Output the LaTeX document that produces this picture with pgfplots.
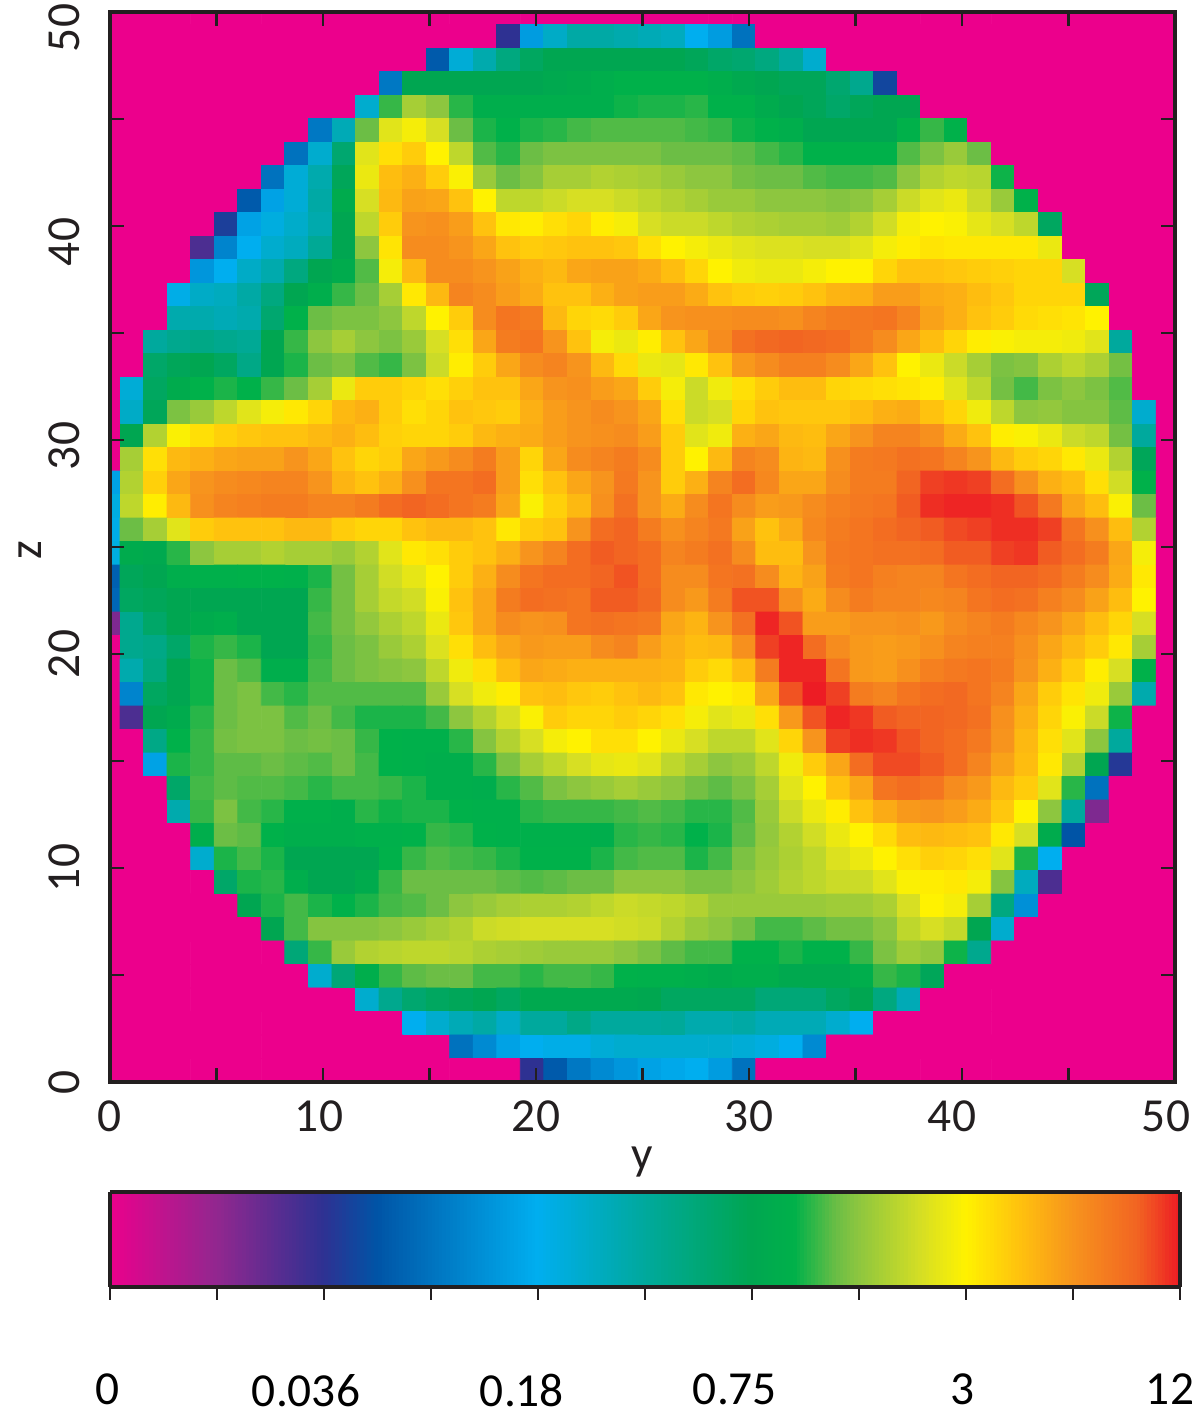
\documentclass[border=0pt]{standalone}
\usepackage{pgfplots}
\pgfplotsset{compat=1.18}
\usepackage{fontspec}
\setmainfont{Carlito}
\definecolor{axc}{RGB}{35,31,32}
\pgfplotsset{
 colormap={rm}{rgb255(0)=(236,0,140) rgb255(10)=(146,39,143) rgb255(20)=(46,49,146) rgb255(25)=(0,84,166) rgb255(40)=(0,174,239) rgb255(50)=(0,169,157) rgb255(60)=(0,166,81) rgb255(64)=(0,177,74) rgb255(68)=(108,190,69) rgb255(70)=(141,198,63) rgb255(76)=(215,223,35) rgb255(80)=(255,242,0) rgb255(85)=(255,194,14) rgb255(90)=(247,148,29) rgb255(96)=(242,101,34) rgb255(100)=(237,28,36)}
}
\begin{document}
\begin{tikzpicture}
\path[use as bounding box] (-55pt,-168pt) rectangle (542pt,541pt);
\begin{axis}[
 at={(0pt,0pt)},anchor=south west,
 scale only axis,width=532.5pt,height=535pt,
 xmin=0,xmax=50,ymin=0,ymax=50,
 enlargelimits=false,axis on top,
 colormap name=rm,point meta min=0,point meta max=100,
 font=\fontsize{23.7}{28}\selectfont,
 text=axc,
 axis line style={color=axc,line width=1.6pt},
 tick style={color=axc,line width=1.4pt},
 major tick length=7pt,tick align=inside,
 xtick={0,5,...,50},ytick={0,5,...,50},
 xticklabels={0,,{\hspace*{-4pt}10},,20,,30,,{\hspace*{-10pt}40},,{\hspace*{-9pt}50}},
 yticklabels={0,,10,,20,,{\hspace*{-6pt}30},,{\hspace*{-16pt}40},,{\hspace*{-16pt}50}},
 xticklabel style={yshift=-6pt},
 yticklabel style={rotate=90,anchor=south,yshift=11.5pt},
 xlabel={y},ylabel={z},
 every axis x label/.style={at={(axis description cs:0.5,-0.0745)},anchor=center},
 every axis y label/.style={at={(axis description cs:-0.075,0.497)},rotate=90,anchor=center},
 colorbar horizontal,
 colorbar sampled,
 colorbar style={
  samples=300,
  at={(0,-0.1028)},anchor=north west,
  scale only axis,width=535pt,height=47.5pt,
  xtick={0,10,...,100},
  xticklabels={{\hspace*{-2pt}0},,{\hspace*{-18pt}0.036},,{\hspace*{-16pt}0.18},,{\hspace*{-17pt}0.75},,{\hspace*{-4pt}3},,{\hspace*{-10pt}12}},
  xticklabel shift=33.5pt,
  tick align=outside,tickpos=bottom,major tick length=6.5pt,
  tick style={color=axc,line width=0.8pt},
  axis line style={color=axc,line width=1.6pt},
  font=\fontsize{23.7}{28}\selectfont,
 },
]
\addplot[matrix plot*,mesh/cols=46,mesh/ordering=x varies,point meta=\thisrowno{0}]
 table[header=false,row sep=\\,
  x expr={0.47+1.1056*(\coordindex-46*floor((\coordindex+0.5)/46)-0.5)},
  y expr={0.55+1.098*(45-floor((\coordindex+0.5)/46))}]{
0\\0\\0\\0\\0\\0\\0\\0\\0\\0\\0\\0\\0\\0\\0\\0\\0\\0\\0\\0\\0\\0\\0\\0\\0\\0\\0\\0\\0\\0\\0\\0\\0\\0\\0\\0\\0\\0\\0\\0\\0\\0\\0\\0\\0\\0\\
0\\0\\0\\0\\0\\0\\0\\0\\0\\0\\0\\0\\0\\0\\0\\0\\0\\20\\37\\45\\49\\49\\48\\47\\46\\40\\37\\30\\0\\0\\0\\0\\0\\0\\0\\0\\0\\0\\0\\0\\0\\0\\0\\0\\0\\0\\
0\\0\\0\\0\\0\\0\\0\\0\\0\\0\\0\\0\\0\\0\\26\\43\\48\\54\\58\\60\\60\\60\\60\\60\\60\\59\\57\\56\\54\\50\\44\\0\\0\\0\\0\\0\\0\\0\\0\\0\\0\\0\\0\\0\\0\\0\\
0\\0\\0\\0\\0\\0\\0\\0\\0\\0\\0\\0\\31\\60\\60\\60\\60\\60\\60\\61\\62\\63\\64\\64\\64\\64\\63\\61\\60\\59\\59\\56\\52\\23\\0\\0\\0\\0\\0\\0\\0\\0\\0\\0\\0\\0\\
0\\0\\0\\0\\0\\0\\0\\0\\0\\0\\0\\44\\66\\72\\70\\65.5\\63\\63\\63\\63\\63\\63\\64.5\\65\\65\\65.5\\64\\64\\62\\60\\59\\57\\59\\60\\60\\0\\0\\0\\0\\0\\0\\0\\0\\0\\0\\0\\
0\\0\\0\\0\\0\\0\\0\\0\\0\\31\\47\\68\\77\\79\\76\\68\\65\\64\\65\\65.5\\66.5\\67\\67\\67\\67\\66.5\\66\\64.5\\64\\63\\60\\60\\60\\60\\64\\66\\64\\0\\0\\0\\0\\0\\0\\0\\0\\0\\
0\\0\\0\\0\\0\\0\\0\\0\\30\\44\\56\\77\\82\\84\\80\\74\\67\\65.5\\68\\69\\69\\69\\69\\69\\68\\68\\68\\67.5\\66.5\\65.5\\64\\64\\64\\64\\67\\69\\71\\68\\0\\0\\0\\0\\0\\0\\0\\0\\
0\\0\\0\\0\\0\\0\\0\\30\\43\\48\\59\\78\\85.5\\87\\84\\79.5\\71\\68\\69.5\\72\\72\\73\\72.5\\72\\71\\70\\70\\68.5\\68\\68\\67\\66.5\\66.5\\67\\70\\73\\74\\73.5\\64.5\\0\\0\\0\\0\\0\\0\\0\\
0\\0\\0\\0\\0\\0\\26\\38\\43\\49\\62\\76\\86\\88.5\\88\\85\\80\\74\\74\\75\\76\\76\\75\\74\\73\\72\\71\\71\\70\\70\\70\\69.5\\70\\72\\75\\77\\78\\75\\71\\64\\0\\0\\0\\0\\0\\0\\
0\\0\\0\\0\\0\\22\\38\\42\\44.5\\48\\60\\74\\84\\90\\90.5\\89\\85\\81\\80.5\\82\\83\\80.5\\79\\76\\75\\75\\74\\73\\72.5\\72\\72\\71.5\\73\\75.5\\79\\80\\79.5\\77.5\\76\\74\\58\\0\\0\\0\\0\\0\\
0\\0\\0\\0\\17\\33\\40\\44\\46\\51\\60\\70\\81.5\\91\\91\\90\\88\\85\\84\\84.5\\85\\85\\84.5\\82\\80\\79\\78\\77\\76.5\\76.5\\76\\76\\77\\79\\80.5\\81.5\\81\\81\\81\\81\\78\\0\\0\\0\\0\\0\\
0\\0\\0\\0\\36\\40\\45\\48\\54\\60\\62\\67\\79\\86\\91\\91\\90\\88.5\\87\\86\\88\\88.5\\88.5\\87.5\\85.5\\83\\80\\78.5\\78\\78\\79\\80\\80\\83\\85\\85\\84.5\\84\\83.5\\83\\83\\76\\0\\0\\0\\0\\
0\\0\\0\\41\\45\\46\\49\\54\\60\\63\\66\\68\\72\\81\\86\\92\\91\\89\\87.5\\85\\85\\87\\88.5\\89\\89\\87.5\\85\\84\\83.5\\84\\85\\86.5\\87\\89\\89\\87.5\\87\\85.5\\84.5\\83\\83\\83\\59\\0\\0\\0\\
0\\0\\0\\48\\48\\47\\48\\56\\64\\68\\69\\69\\70\\74\\80\\84\\91\\94\\93\\86\\83\\82.5\\84\\88\\90\\90.5\\90.5\\91\\91\\90.5\\92\\93\\93.5\\94\\92\\88.5\\87\\85\\84\\82.5\\82\\81.5\\80\\0\\0\\0\\
0\\0\\50\\52\\53\\52\\51\\60\\66\\70\\72\\70\\69\\71\\76\\82\\88\\93\\94\\90\\85\\79\\78\\80.5\\85\\88\\91\\94.5\\95.5\\96\\95.5\\95\\93\\91\\88\\85.5\\83\\80.5\\79.5\\79\\79\\78.5\\77\\50\\0\\0\\
0\\0\\57\\59\\60\\58\\53\\60\\65\\68\\69\\67\\66\\69\\75\\80.5\\84\\88\\91\\92\\90\\86\\82.5\\78\\77.5\\81\\85\\89.5\\91\\92.5\\92.5\\91\\88\\85\\80\\78\\75\\72\\69\\69.5\\72.5\\74\\72.5\\68.5\\0\\0\\
0\\43\\58\\62\\64\\65\\64\\66\\68\\72\\78\\84\\84\\83\\82\\83.5\\85\\85\\88\\90\\90.5\\89\\88\\84\\79\\75\\78.5\\82\\84\\85.5\\85.5\\83\\82.5\\82\\81.5\\80.5\\77\\74\\68.5\\66.5\\69\\70\\69\\67\\0\\0\\
0\\45\\59\\69\\71\\74\\77\\79\\81\\83\\86\\87\\84\\82\\83\\85\\84.5\\84\\87\\89\\90\\91\\90\\88\\82\\75\\76\\83\\85\\84.5\\84.5\\84.5\\85.5\\87\\87.5\\85\\83\\78.5\\74\\70\\70.5\\69.5\\69.5\\67.5\\44\\0\\
0\\60\\73\\79.5\\82\\83.5\\84.5\\85\\85\\86\\87\\85.5\\83.5\\83\\83\\84\\86\\87\\87.5\\89\\90\\90.5\\91\\89\\84\\77\\78.5\\87\\88\\86\\85.5\\88\\90\\92\\92\\90.5\\87.5\\85\\80.5\\79.5\\78\\75\\74\\68.5\\50\\0\\
0\\72\\82\\86\\87\\88\\88.5\\88.5\\90\\88\\85\\83\\84\\88\\89.5\\91\\93\\89\\83\\88\\91\\92\\93\\91\\84\\80\\86\\92\\91\\86.5\\86\\90.5\\93\\93.5\\94.5\\94\\92\\90\\86\\84\\83\\81\\78\\73\\59\\0\\
38\\73\\83.5\\88\\90\\91\\91.5\\92\\92\\90\\86.5\\85\\87\\90.5\\94\\94\\95\\89\\82\\85\\88\\90\\93.5\\90\\84\\87\\92\\95\\91.5\\88\\88\\91\\93\\93\\96\\98\\98.5\\98\\95\\90.5\\87\\85.5\\82\\75.5\\64\\0\\
42\\74\\80.5\\86\\90.5\\92\\92.5\\93\\93\\92\\92\\93\\95\\96\\95\\94\\93\\88\\79.5\\83.5\\86\\90.5\\94.5\\90\\87.5\\91\\94\\91\\89\\89.5\\91\\92.5\\93.5\\94\\96.5\\99\\99.5\\99.5\\99\\97\\93.5\\88\\85.5\\79.5\\68\\0\\
41\\68\\72\\77\\84\\85\\85\\85\\86\\86\\84\\83\\83\\85\\86\\86\\85\\81\\84\\85\\90\\95\\96\\93\\90.5\\92\\93.5\\88.5\\85\\87.5\\91.5\\93\\94\\95\\96\\96.5\\97.5\\98\\99\\99\\98\\94\\90.5\\85.5\\73\\0\\
42\\62\\61\\65.5\\70\\72\\72\\73\\72\\72\\71\\73\\77\\81\\82\\84\\85\\87\\90\\92\\95\\96.5\\96\\95\\92\\93\\94.5\\91\\85.5\\85.5\\90\\93.5\\94\\94.5\\94.5\\95\\96.5\\96.5\\98\\98.5\\96.5\\95\\93\\88\\79\\0\\
27\\59\\60\\63\\63.5\\63.5\\64\\64\\63.5\\65\\68.5\\72\\75.5\\77.5\\80\\84\\87\\91\\94\\95\\95\\96\\97\\95\\91\\91\\94\\94.5\\91\\86.5\\88.5\\93\\94\\92.5\\92\\92\\94\\95\\96\\96\\95\\93\\91\\87.5\\81\\0\\
28\\58\\59\\60\\60\\60\\60\\60\\60\\66\\68.5\\72\\74.5\\75.5\\79.5\\85\\88\\93\\95\\94.5\\94\\96.5\\96.5\\95.5\\91\\89.5\\93\\97\\97\\90.5\\87.5\\91\\93\\92\\92\\91.5\\92\\94\\95\\94.5\\92.5\\91\\88.5\\85.5\\80\\0\\
12\\52\\57\\60\\62\\63\\60\\60\\60\\66.5\\68.5\\70.5\\72.5\\74\\78\\84.5\\88\\91\\90\\90.5\\94\\94.5\\94\\93.5\\88\\86.5\\90\\94.5\\99.5\\97\\89\\89\\90\\90\\90.5\\89.5\\91\\92\\93\\91.5\\90\\88\\85.5\\83\\76\\0\\
0\\52\\53\\57\\65\\66\\65\\60\\60\\66\\68\\69\\71\\72.5\\76.5\\82\\85.5\\88\\89.5\\89\\89\\91\\92\\89\\87\\85.5\\86\\90.5\\98\\99.5\\95\\91\\89.5\\89\\89.5\\90.5\\92\\92.5\\92.5\\90.5\\88\\86\\84\\81\\72\\0\\
0\\48\\54\\60\\64.5\\68\\67\\63\\63\\66.5\\68\\69\\69.5\\70\\74\\78.5\\82\\85.5\\88\\87.5\\87\\87\\87\\87\\86.5\\84\\82.5\\85.5\\93\\99.5\\99.5\\94\\89.5\\89\\90.5\\92.5\\93.5\\94\\93\\90\\87\\84\\80.5\\76\\64\\0\\
0\\33\\58\\60\\64.5\\68\\69\\66.5\\65.5\\67\\67\\67\\67\\67\\71\\76\\78.5\\80.5\\85\\85.5\\84.5\\84\\85\\86\\85\\81\\80\\81\\88\\97\\100\\98\\93\\92\\94\\95\\95.5\\94\\92\\88\\84\\81.5\\78.5\\71\\48\\0\\
0\\17\\60\\62\\65.5\\68\\69\\69\\67\\68\\66.5\\65\\65\\65\\66.5\\70\\73\\76\\79.5\\84\\83\\83\\84\\83\\82\\79\\77\\78\\82\\89.5\\97\\99.5\\98.5\\96.5\\96\\96\\95.5\\94.5\\90.5\\87\\83\\79.5\\75\\64.5\\0\\0\\
0\\0\\53\\64\\66\\68.5\\69\\69\\68\\68.5\\68\\66\\64\\63.5\\63.5\\65.5\\69.5\\73\\76\\79\\80\\82\\82\\80\\78\\76\\74\\74\\77\\83\\90\\98\\99\\98.5\\97\\96\\95\\93.5\\90\\86\\82\\77\\70\\50\\0\\0\\
0\\0\\38\\65\\66\\67.5\\67.5\\68\\67.5\\67\\68\\66.5\\64\\63.5\\63\\63\\65.5\\69\\72\\74\\76\\77.5\\78\\77\\74\\72\\70\\71\\74\\78.5\\84\\88\\95\\97.5\\97.5\\96.5\\95\\92\\88.5\\85.5\\81\\73\\60\\21\\0\\0\\
0\\0\\0\\57\\66.5\\67.5\\67\\67\\66.5\\65.5\\66.5\\66.5\\66\\65\\63\\63\\62.5\\65.5\\67\\69\\70\\71\\72\\71\\70\\68.5\\67.5\\69\\72\\77\\80\\85\\88\\94\\95\\94\\91\\89.5\\86\\84\\77\\65.5\\30\\0\\0\\0\\
0\\0\\0\\48\\66\\69\\66.5\\65.5\\63.5\\63.5\\63\\65.5\\64.5\\65\\65\\64\\63.5\\63.5\\65.5\\66\\66\\66\\66.5\\67\\66.5\\65.5\\65.5\\67\\71\\75\\78\\80.5\\85\\87.5\\89.5\\90\\89\\87.5\\84.5\\80\\70\\50\\12\\0\\0\\0\\
0\\0\\0\\0\\63\\68\\67.5\\64\\63\\63\\63\\63.5\\63.5\\64\\66\\65.5\\64\\63.5\\63.5\\63.5\\63.5\\63\\65.5\\66\\65.5\\64\\65\\67.5\\70.5\\73\\75.5\\78\\80\\82.5\\85.5\\86\\85.5\\85\\81\\76\\62\\25\\0\\0\\0\\0\\
0\\0\\0\\0\\44\\65\\66.5\\65\\60\\60\\60\\60\\64\\66\\67\\66.5\\66\\65\\64\\64\\64\\65\\66.5\\67\\67\\65\\66.5\\69\\71\\72.5\\74\\76.5\\78\\80\\82\\83.5\\83\\82\\77\\65\\40\\0\\0\\0\\0\\0\\
0\\0\\0\\0\\0\\57\\65\\65.5\\63\\60\\60\\62\\66\\68\\68\\68\\68\\67.5\\67\\67.5\\68\\68\\70\\70\\70\\69\\69\\70\\71.5\\73\\74\\75\\75\\77\\79.5\\80.5\\81\\79\\69.5\\46\\17\\0\\0\\0\\0\\0\\
0\\0\\0\\0\\0\\0\\60\\65\\66.5\\65\\64\\65\\66.5\\67\\68\\70\\71\\72\\72.5\\72.5\\73\\74\\75\\74.5\\74\\73\\71\\71\\71\\71\\71\\71.5\\71.5\\72.5\\76\\80\\79\\72\\54\\35\\0\\0\\0\\0\\0\\0\\
0\\0\\0\\0\\0\\0\\0\\60\\66.5\\69.5\\69.5\\69.5\\70\\71\\72\\73\\75\\75.5\\76\\76\\76\\76\\75.5\\75\\73\\71\\70\\68.5\\66.5\\66.5\\67.5\\68.5\\68.5\\70\\74\\76\\74.5\\60\\44\\0\\0\\0\\0\\0\\0\\0\\
0\\0\\0\\0\\0\\0\\0\\0\\55\\66\\71\\73\\73.5\\74\\74\\73.5\\72.5\\72\\71.5\\71\\71\\71\\70\\69\\67.5\\66.5\\66.5\\64\\64\\65\\64\\64\\66\\69\\71.5\\70.5\\64.5\\52\\0\\0\\0\\0\\0\\0\\0\\0\\
0\\0\\0\\0\\0\\0\\0\\0\\0\\44\\55\\63\\66\\67.5\\68\\68\\66.5\\66.5\\65.5\\66.5\\66.5\\66\\64\\63.5\\63.5\\63\\62\\63\\63\\61\\61\\61\\63\\66\\65\\59\\0\\0\\0\\0\\0\\0\\0\\0\\0\\0\\
0\\0\\0\\0\\0\\0\\0\\0\\0\\0\\0\\44\\52\\56\\58\\59\\60\\58\\61\\61\\61\\61\\61\\60.5\\58\\58\\58\\58\\55\\55\\55\\58\\60\\54\\47\\0\\0\\0\\0\\0\\0\\0\\0\\0\\0\\0\\
0\\0\\0\\0\\0\\0\\0\\0\\0\\0\\0\\0\\0\\40\\44\\47\\49\\45\\50\\50\\53\\50\\50\\50\\50.5\\48\\48\\49\\47\\47\\47\\44\\40\\0\\0\\0\\0\\0\\0\\0\\0\\0\\0\\0\\0\\0\\
0\\0\\0\\0\\0\\0\\0\\0\\0\\0\\0\\0\\0\\0\\0\\30\\34\\38\\40\\41\\41\\43\\44\\44\\44\\44\\44\\43\\42\\40\\34\\0\\0\\0\\0\\0\\0\\0\\0\\0\\0\\0\\0\\0\\0\\0\\
0\\0\\0\\0\\0\\0\\0\\0\\0\\0\\0\\0\\0\\0\\0\\0\\0\\0\\20\\26\\31\\34\\36\\38\\39\\40\\37\\30\\0\\0\\0\\0\\0\\0\\0\\0\\0\\0\\0\\0\\0\\0\\0\\0\\0\\0\\
};
\end{axis}
\end{tikzpicture}
\end{document}
